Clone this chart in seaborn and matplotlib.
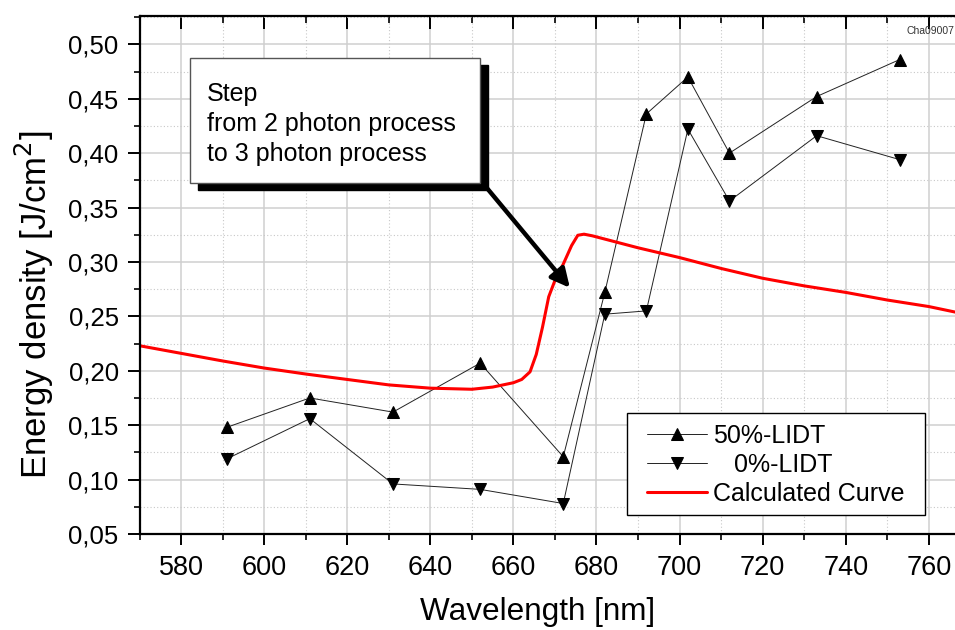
import numpy as np
import pandas as pd
import matplotlib
matplotlib.use("Agg")
import matplotlib.pyplot as plt
import matplotlib.lines as mlines
import seaborn as sns
from matplotlib.patches import Rectangle
from matplotlib.ticker import MultipleLocator, FuncFormatter

# === Dados ===
wavelength = [591, 611, 631, 652, 672, 682, 692, 702, 712, 733, 753]
lidt_50 = [0.148, 0.175, 0.162, 0.207, 0.121, 0.272, 0.436, 0.470, 0.400, 0.452, 0.486]
lidt_0 = [0.119, 0.156, 0.096, 0.091, 0.078, 0.252, 0.255, 0.422, 0.356, 0.416, 0.394]

calc_wl = [567, 570, 580, 590, 600, 610, 620, 630, 640, 650, 655, 660, 662, 664,
           665.5, 667, 668.5, 670, 672, 674, 675.5, 677, 679, 690, 700, 710, 720,
           730, 740, 750, 760, 770]
calc_y = [0.225, 0.223, 0.216, 0.209, 0.2025, 0.197, 0.192, 0.187, 0.184, 0.183,
          0.185, 0.189, 0.192, 0.199, 0.215, 0.240, 0.268, 0.283, 0.298, 0.315,
          0.3245, 0.3255, 0.324, 0.313, 0.304, 0.294, 0.285, 0.278, 0.272, 0.265,
          0.259, 0.251]

x_ticks = [580, 600, 620, 640, 660, 680, 700, 720, 740, 760]
y_ticks = [0.05, 0.10, 0.15, 0.20, 0.25, 0.30, 0.35, 0.40, 0.45, 0.50]

note_text = "Step\nfrom 2 photon process\nto 3 photon process"

sns.set_style("white")
plt.rcParams['font.family'] = ['Liberation Sans', 'DejaVu Sans']
plt.rcParams['text.color'] = 'black'
plt.rcParams['axes.labelcolor'] = 'black'
plt.rcParams['xtick.color'] = 'black'
plt.rcParams['ytick.color'] = 'black'
plt.rcParams['xtick.bottom'] = True
plt.rcParams['xtick.top'] = True
plt.rcParams['ytick.left'] = True

fig = plt.figure(figsize=(9.55, 6.3), dpi=100)
ax = fig.add_axes([0.1461, 0.1524, 0.870, 0.8222])

# === Grelha ===
ax.xaxis.set_major_locator(MultipleLocator(20))
ax.xaxis.set_minor_locator(MultipleLocator(10))
ax.yaxis.set_major_locator(MultipleLocator(0.05))
ax.yaxis.set_minor_locator(MultipleLocator(0.025))
ax.grid(which='major', color='#cfcfcf', lw=1.1, ls='-')
ax.grid(which='minor', color='#c8c8c8', lw=0.8, ls=(0, (1, 2)))
ax.set_axisbelow(True)

# === Séries ===
sns.lineplot(x=wavelength, y=lidt_50, ax=ax, color='#222222', lw=0.7,
             marker='^', markersize=9, markeredgecolor='black',
             markerfacecolor='black', label='50%-LIDT')
sns.lineplot(x=wavelength, y=lidt_0, ax=ax, color='#222222', lw=0.7,
             marker='v', markersize=9, markeredgecolor='black',
             markerfacecolor='black', label='   0%-LIDT')
sns.lineplot(x=calc_wl, y=calc_y, ax=ax, color='#ff0000', lw=2.2,
             label='Calculated Curve')

ax.set_xlim(570, 770)
ax.set_ylim(0.05, 0.526)
ax.set_xticks(x_ticks)
ax.set_yticks(y_ticks)
ax.yaxis.set_major_formatter(FuncFormatter(lambda v, p: f"{v:.2f}".replace('.', ',')))

for s in ax.spines.values():
    s.set_linewidth(1.6)
    s.set_color('black')

ax.tick_params(axis='x', which='both', bottom=True, top=True, labeltop=False)
ax.tick_params(axis='y', which='both', left=True, right=False)
ax.tick_params(axis='x', which='major', labelsize=19.5, length=8, width=1.4,
               direction='out', pad=7)
ax.tick_params(axis='y', which='major', labelsize=18.5, length=9, width=1.4,
               direction='out', pad=6)
ax.tick_params(axis='both', which='minor', length=4, width=1.2, direction='out')

ax.set_xlabel("Wavelength [nm]", fontsize=22.7)
ax.set_ylabel("Energy density [J/cm$^2$]", fontsize=25)
ax.xaxis.set_label_coords(0.4795, -0.122)
ax.yaxis.set_label_coords(-0.1005, 0.442)

# === Caixa de anotação com sombra ===
box_w = 652.0 - 582.15
box_h = 0.4877 - 0.3727
ax.add_patch(Rectangle((584.1, 0.3657), box_w, box_h,
                       facecolor='black', edgecolor='black', zorder=5))
ax.add_patch(Rectangle((582.15, 0.3727), box_w, box_h,
                       facecolor='white', edgecolor='#555555', lw=1.0, zorder=6))
ax.text(586.2, 0.465, note_text, fontsize=18, va='top', ha='left',
        linespacing=1.31, zorder=7)
ax.annotate('', xy=(673.6, 0.2762), xytext=(653.6, 0.368),
            arrowprops=dict(arrowstyle='-|>', lw=3.2, color='black',
                            mutation_scale=28, shrinkA=0, shrinkB=0),
            zorder=4)

# === Legenda (moldura desenhada à parte) ===
ax.add_patch(Rectangle((0.5866, 0.0367), 0.9453 - 0.5866, 0.2336 - 0.0367,
                       transform=ax.transAxes, facecolor='white',
                       edgecolor='black', lw=1.0, zorder=8))
leg = ax.legend(loc='center left', bbox_to_anchor=(0.6113, 0.1332),
                borderaxespad=0, borderpad=0, fontsize=18, frameon=False,
                handlelength=2.4, labelspacing=0.21, handletextpad=0.24)
leg.set_zorder(9)

fig.text(0.9995, 1 - 31 / 630, "Cha09007", fontsize=7.5, ha='right', va='center',
         color='#333333')

# ticks do topo apontam para dentro
for t in ax.xaxis.get_major_ticks():
    t.tick2line.set_marker(mlines.TICKDOWN)
    t.tick2line.set_markersize(9)
for t in ax.xaxis.get_minor_ticks():
    t.tick2line.set_marker(mlines.TICKDOWN)
    t.tick2line.set_markersize(5)

fig.savefig("out.png", dpi=100)
